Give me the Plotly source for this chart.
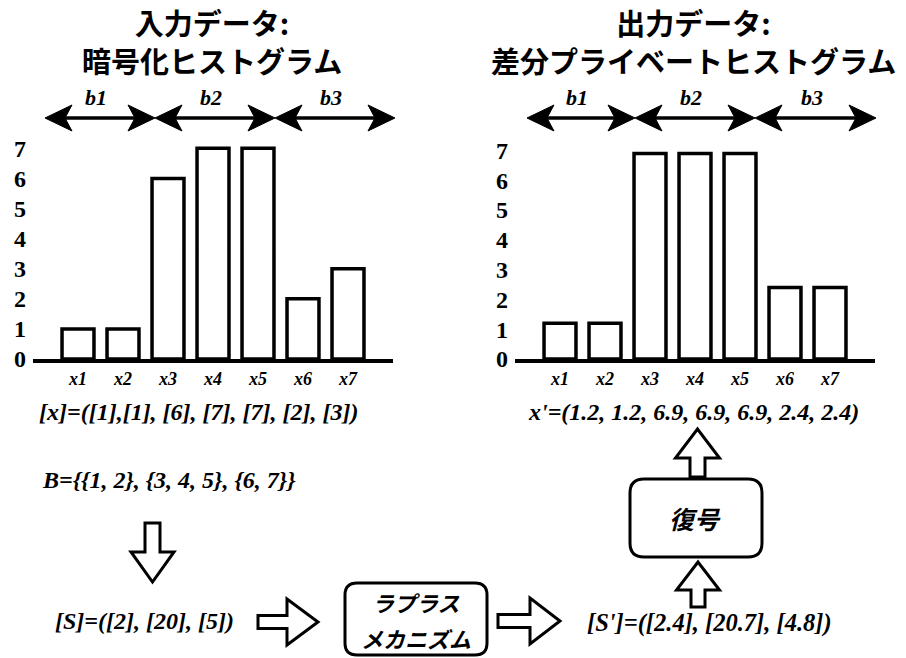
import plotly.graph_objects as go

# ---------------- data ----------------
categories = ["x1", "x2", "x3", "x4", "x5", "x6", "x7"]
input_counts = [1, 1, 6, 7, 7, 2, 3]
output_counts = [1.2, 1.2, 6.9, 6.9, 6.9, 2.4, 2.4]
y_ticks = [0, 1, 2, 3, 4, 5, 6, 7]
bin_labels = ["b1", "b2", "b3"]
title_left = "入力データ:<br>暗号化ヒストグラム"
title_right = "出力データ:<br>差分プライベートヒストグラム"
x_text = "[x]=([1],[1], [6], [7], [7], [2], [3])"
b_text = "B={{1, 2}, {3, 4, 5}, {6, 7}}"
xp_text = "x'=(1.2, 1.2, 6.9, 6.9, 6.9, 2.4, 2.4)"
s_text = "[S]=([2], [20], [5])"
sp_text = "[S']=([2.4], [20.7], [4.8])"

# the html body keeps an 8px margin, so the figure starts at (8, 8) on the page
OFF = 8
W, H = 906 - 2 * OFF, 658 - OFF
SERIF = "Liberation Serif"
CJK = "Noto Sans CJK JP"


def px(x):
    return (x - OFF) / W


def py(y):
    return 1 - (y - OFF) / H


fig = go.Figure()
fig.add_trace(go.Bar(x=categories, y=input_counts, width=0.71,
                     marker=dict(color="white", line=dict(color="black", width=3.5)),
                     xaxis="x", yaxis="y", hoverinfo="skip"))
fig.add_trace(go.Bar(x=categories, y=output_counts, width=0.71,
                     marker=dict(color="white", line=dict(color="black", width=3.5)),
                     xaxis="x2", yaxis="y2", hoverinfo="skip"))

base = 359
ytop_l = base - 7.6 * 30.1
ytop_r = base - 7.6 * 29.8

xax = dict(showline=True, linewidth=4, linecolor="black", showgrid=False, zeroline=False,
           ticks="", range=[-1, 7], automargin=False,
           tickfont=dict(family=SERIF, size=18, color="black", weight="bold", style="italic"))
yax = dict(showline=False, showgrid=False, zeroline=False, ticks="", range=[0, 7.6],
           tickvals=y_ticks, ticklabelstandoff=6, automargin=False,
           tickfont=dict(family=SERIF, size=24, color="black", weight="bold"))

fig.update_layout(
    width=W, height=H, margin=dict(l=0, r=0, t=0, b=0, autoexpand=False),
    paper_bgcolor="white", plot_bgcolor="white", showlegend=False,
    xaxis=dict(xax, domain=[px(33), px(393)], anchor="y"),
    yaxis=dict(yax, domain=[py(base), py(ytop_l)], anchor="x"),
    xaxis2=dict(xax, domain=[px(515), px(875)], anchor="y2"),
    yaxis2=dict(yax, domain=[py(base), py(ytop_r)], anchor="x2"),
)

shapes = []
ann = []


def path(points, close=True):
    s = "M " + " L ".join(f"{px(x):.5f},{py(y):.5f}" for x, y in points)
    return s + (" Z" if close else "")


def double_arrow(x0, x1, y, hl=27, hw=13, notch=7):
    shapes.append(dict(type="line", xref="paper", yref="paper",
                       x0=px(x0 + 10), x1=px(x1 - 10), y0=py(y), y1=py(y),
                       line=dict(color="black", width=3.5)))
    for tip, d in ((x0, 1), (x1, -1)):
        pts = [(tip, y), (tip + d * hl, y - hw), (tip + d * (hl - notch), y), (tip + d * hl, y + hw)]
        shapes.append(dict(type="path", xref="paper", yref="paper", path=path(pts),
                           fillcolor="black", line=dict(color="black", width=1)))


def block_arrow(x0, x1, c, direction, hl=30, hw=22, sw=7):
    if direction == "right":
        hb = x1 - hl
        pts = [(x0, c - sw), (hb, c - sw), (hb, c - hw), (x1, c), (hb, c + hw), (hb, c + sw), (x0, c + sw)]
    elif direction == "down":
        hb = x1 - hl
        pts = [(c - sw, x0), (c - sw, hb), (c - hw, hb), (c, x1), (c + hw, hb), (c + sw, hb), (c + sw, x0)]
    else:  # up: x0 is bottom, x1 tip
        hb = x1 + hl
        pts = [(c - sw, x0), (c - sw, hb), (c - hw, hb), (c, x1), (c + hw, hb), (c + sw, hb), (c + sw, x0)]
    shapes.append(dict(type="path", xref="paper", yref="paper", path=path(pts),
                       fillcolor="white", line=dict(color="black", width=3)))


def rounded_box(x0, y0, x1, y1, r):
    s = (f"M {px(x0 + r)},{py(y0)} L {px(x1 - r)},{py(y0)} Q {px(x1)},{py(y0)} {px(x1)},{py(y0 + r)} "
         f"L {px(x1)},{py(y1 - r)} Q {px(x1)},{py(y1)} {px(x1 - r)},{py(y1)} "
         f"L {px(x0 + r)},{py(y1)} Q {px(x0)},{py(y1)} {px(x0)},{py(y1 - r)} "
         f"L {px(x0)},{py(y0 + r)} Q {px(x0)},{py(y0)} {px(x0 + r)},{py(y0)} Z")
    shapes.append(dict(type="path", xref="paper", yref="paper", path=s,
                       fillcolor="white", line=dict(color="black", width=3)))


def text(x, y, t, size, family=SERIF, weight="bold", style="italic", xanchor="center"):
    ann.append(dict(x=px(x), y=py(y), xref="paper", yref="paper", text=t, showarrow=False,
                    xanchor=xanchor, yanchor="middle",
                    font=dict(family=family, size=size, color="black", weight=weight, style=style)))


# titles (two lines each)
text(212, 41, title_left, 29, family=CJK, style="normal")
text(693, 41, title_right, 29, family=CJK, style="normal")

# bin arrows
left_edges = [45, 155, 275, 395]
right_edges = [527, 635, 755, 876]
for edges in (left_edges, right_edges):
    for i, lab in enumerate(bin_labels):
        double_arrow(edges[i], edges[i + 1], 118)
        text((edges[i] + edges[i + 1]) / 2 - 4, 97, lab, 22)

# formulas
text(37, 412, x_text, 24, xanchor="left")
text(40, 480, b_text, 24, xanchor="left")
text(526, 412, xp_text, 24, xanchor="left")
text(53, 621, s_text, 24, xanchor="left")
text(585, 623, sp_text, 24.5, xanchor="left")

# flow arrows
block_arrow(523, 582, 152.5, "down", hl=30, hw=21.5, sw=7.5)
block_arrow(258, 318, 622, "right", hl=31, hw=23, sw=6.5)
block_arrow(498, 560, 621, "right", hl=30, hw=23, sw=6.5)
block_arrow(607, 562, 698, "up", hl=28, hw=21.5, sw=7)
block_arrow(477, 429, 697.5, "up", hl=29, hw=22, sw=7.5)

# boxes
rounded_box(345, 583, 487, 655, 12)
rounded_box(630, 479, 762, 557, 14)
text(416, 602, "ラプラス", 22, family=CJK, weight="bold")
text(416, 638, "メカニズム", 22, family=CJK, weight="bold")
text(695, 518, "復号", 25, family=CJK, weight="bold")

fig.update_layout(shapes=shapes, annotations=ann)
fig.write_html("out.html")
